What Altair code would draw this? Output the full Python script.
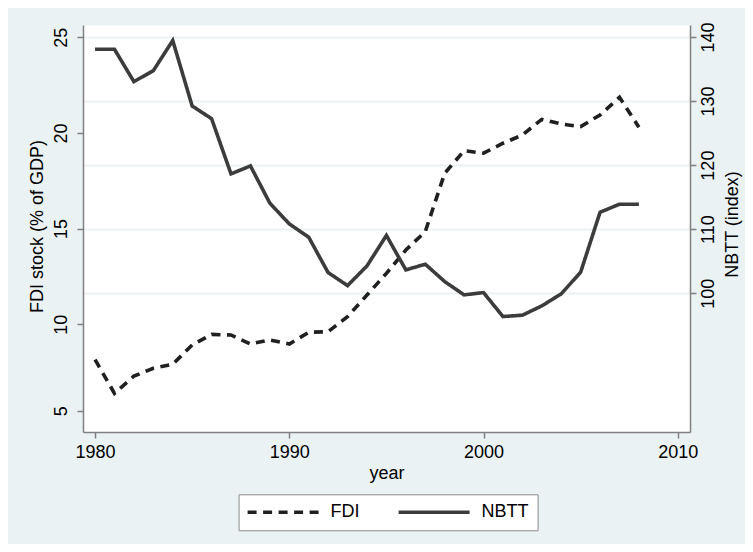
import altair as alt
import pandas as pd

# ---- data ----
years = list(range(1980, 2009))
fdi = [8.15, 6.39, 7.29, 7.70, 7.91, 8.92, 9.47, 9.44, 8.97, 9.18,
       8.97, 9.58, 9.61, 10.40, 11.53, 12.66, 13.88, 14.84, 17.89, 19.07,
       18.94, 19.46, 19.89, 20.71, 20.47, 20.33, 20.94, 21.86, 20.30]
nbtt = [138.08, 138.08, 133.03, 134.74, 139.45, 129.23, 127.25, 118.63, 119.88, 114.06,
        110.83, 108.75, 103.23, 101.20, 104.27, 109.03, 103.65, 104.54, 101.83, 99.75,
        100.11, 96.37, 96.58, 98.03, 99.91, 103.29, 112.65, 113.90, 113.90]
series = ["FDI", "NBTT"]
x_ticks = [1980, 1990, 2000, 2010]
left_ticks = [5.48, 10, 15, 20, 25]
right_ticks = [100, 110, 120, 130, 140]

df = pd.DataFrame({"year": years, "fdi": fdi, "nbtt": nbtt})

FONT = "Liberation Sans"
AXIS_GRAY = "#808080"

legend = alt.Legend(
    title=None,
    orient="none",
    legendX=155.6,
    legendY=469.3,
    direction="horizontal",
    symbolType="M-1.286,0H8.857",
    symbolSize=196,
    symbolStrokeWidth=3.6,
    labelOffset=65,
    columnPadding=31,
    padding=9,
    fillColor="white",
    strokeColor="#8c8c8c",
    cornerRadius=0,
    labelFont=FONT,
    labelFontSize=18,
    labelColor="#000000",
)

color = alt.Color("series:N", scale=alt.Scale(domain=series, range=["#202020", "#3c3c3c"]), legend=legend)
dash = alt.StrokeDash("series:N", scale=alt.Scale(domain=series, range=[[9, 6.5], [1, 0]]), legend=legend)

x = alt.X(
    "year:Q",
    scale=alt.Scale(domain=[1979.38, 2010.63], nice=False, zero=False),
    axis=alt.Axis(
        values=x_ticks, format="d", title="year", grid=False,
        tickSize=6, labelPadding=5.5, labelFlush=False,
        titleY=46, titleBaseline="alphabetic",
    ),
)

base = alt.Chart(df)

fdi_line = base.transform_calculate(series="'FDI'").mark_line(
    strokeWidth=3.6, strokeCap="butt"
).encode(
    x=x,
    y=alt.Y(
        "fdi:Q",
        scale=alt.Scale(domain=[4.37, 25.64], nice=False, zero=False),
        axis=alt.Axis(
            orient="left", values=left_ticks,
            labelExpr="datum.value < 6 ? '5' : datum.label",
            title="FDI stock (% of GDP)", grid=False, tickSize=6,
            labelAngle=270, labelAlign="center", labelBaseline="middle", labelPadding=15.5,
            titleAngle=270, titleAlign="center", titleBaseline="middle",
            titleX=-45.5, titleY=201,
        ),
    ),
    color=color,
    strokeDash=dash,
)

nbtt_line = base.transform_calculate(series="'NBTT'").mark_line(
    strokeWidth=3.6, strokeCap="butt"
).encode(
    x=x,
    y=alt.Y(
        "nbtt:Q",
        scale=alt.Scale(domain=[78.35, 141.87], nice=False, zero=False),
        axis=alt.Axis(
            orient="right", values=right_ticks,
            title="NBTT (index)", grid=True, gridColor="#eaf2f3", gridWidth=2,
            tickSize=6,
            labelAngle=270, labelAlign="center", labelBaseline="middle", labelPadding=12.5,
            titleAngle=270, titleAlign="center", titleBaseline="middle",
            titleX=42.5, titleY=199,
        ),
    ),
    color=color,
    strokeDash=dash,
)

chart = alt.layer(fdi_line, nbtt_line).resolve_scale(
    y="independent"
).properties(
    width=607,
    height=407,
    padding={"left": 75, "top": 17, "right": 55, "bottom": 112},
    autosize=alt.AutoSizeParams(type="none"),
    background="#eaf2f3",
).configure_view(
    fill="white", stroke="transparent"
).configure_axis(
    domainColor=AXIS_GRAY, domainWidth=1.5,
    tickColor=AXIS_GRAY, tickWidth=1.5,
    labelFont=FONT, labelFontSize=18, labelColor="#000000",
    titleFont=FONT, titleFontSize=18, titleColor="#000000", titleFontWeight="normal",
)

chart.save("out.html", embed_options={"renderer": "svg", "actions": False})
